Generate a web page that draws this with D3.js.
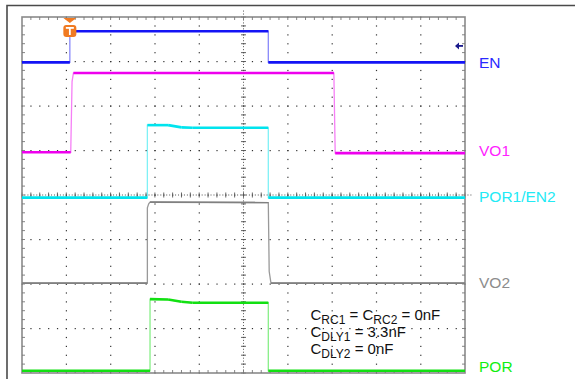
<!DOCTYPE html>
<html><head><meta charset="utf-8">
<script src="https://cdn.jsdelivr.net/npm/d3@7"></script>
<style>html,body{margin:0;padding:0;background:#fff;}svg{display:block;}</style>
</head><body>
<svg id="c" width="575" height="379"></svg>
<script>
// ---- data (time in divisions 0..10, level in divisions 0..8 from bottom) ----
const channelNames = ["EN", "VO1", "POR1/EN2", "VO2", "POR"];
const channelColors = ["#1414f5", "#ee00ee", "#00e4ee", "#808080", "#12e012"];
const labelColors = ["#2a2aff", "#ff22ff", "#22eaf5", "#8c8c8c", "#11ee11"];
const labelLevels = [6.97, 4.99, 3.96, 2.04, 0.14];
const enTrace = [[0, 6.98], [1.08, 6.98], [1.08, 7.68], [5.56, 7.68], [5.56, 6.98], [10, 6.98]];
const vo1Trace = [[0, 4.96], [1.10, 4.96], [1.13, 6.55], [1.16, 6.74], [7.04, 6.74], [7.07, 4.94], [10, 4.94]];
const por1Trace = [[0, 3.94], [2.83, 3.94], [2.83, 5.57], [3.3, 5.57], [3.6, 5.52], [3.85, 5.51], [5.56, 5.51], [5.56, 3.94], [10, 3.94]];
const vo2Trace = [[0, 2.02], [2.83, 2.02], [2.83, 3.71], [2.86, 3.80], [2.89, 3.84], [5.56, 3.83], [5.58, 2.28], [5.62, 2.02], [10, 2.02]];
const porTrace = [[0, 0.05], [2.89, 0.05], [2.89, 1.66], [3.3, 1.65], [3.6, 1.60], [3.85, 1.58], [5.56, 1.58], [5.56, 0.05], [10, 0.05]];
const traces = [enTrace, vo1Trace, por1Trace, vo2Trace, porTrace];
const triggerTime = 1.08;
const triggerLevel = 7.35;
const annotation = [
  [["C", false], ["RC1", true], [" = C", false], ["RC2", true], [" = 0nF", false]],
  [["C", false], ["DLY1", true], [" = 3.3nF", false]],
  [["C", false], ["DLY2", true], [" = 0nF", false]]
];
const xDivs = 10, yDivs = 8, minorPerDiv = 5;

// ---- drawing ----
const svg = d3.select("#c");
const x = d3.scaleLinear().domain([0, xDivs]).range([22, 465]);
const y = d3.scaleLinear().domain([0, yDivs]).range([373, 17]);
const font = "'Liberation Sans', Arial, sans-serif";

// outer frame
svg.append("path").attr("d", "M7,379 V5.5 H575").attr("fill", "none").attr("stroke", "#4a4a4a").attr("stroke-width", 1.6);

const g = svg.append("g");
// grid dots
const nX = xDivs * minorPerDiv, nY = yDivs * minorPerDiv;
for (let i = 1; i < xDivs; i++) {
  for (let k = 0; k <= nY; k++) {
    g.append("rect").attr("x", x(i) - 0.5).attr("y", y(k / minorPerDiv) - 0.5).attr("width", 1.2).attr("height", 1.2).attr("fill", "#333");
  }
}
for (let j = 1; j < yDivs; j++) {
  for (let k = 0; k <= nX; k++) {
    g.append("rect").attr("x", x(k / minorPerDiv) - 0.5).attr("y", y(j) - 0.5).attr("width", 1.2).attr("height", 1.2).attr("fill", "#333");
  }
}
// center crosshair ticks
const cx = x(xDivs / 2), cy = y(yDivs / 2);
for (let k = 0; k <= nY; k++) {
  g.append("line").attr("x1", cx - 2.5).attr("x2", cx + 2.5).attr("y1", y(k / minorPerDiv)).attr("y2", y(k / minorPerDiv)).attr("stroke", "#555").attr("stroke-width", 0.9);
  for (let s = 1; s < 3; s++) g.append("rect").attr("x", cx - 0.5).attr("y", y((k + s / 3) / minorPerDiv) - 0.5).attr("width", 1).attr("height", 1).attr("fill", "#555");
}
for (let k = 0; k <= nX; k++) {
  g.append("line").attr("y1", cy - 2.5).attr("y2", cy + 2.5).attr("x1", x(k / minorPerDiv)).attr("x2", x(k / minorPerDiv)).attr("stroke", "#555").attr("stroke-width", 0.9);
  for (let s = 1; s < 3; s++) g.append("rect").attr("y", cy - 0.5).attr("x", x((k + s / 3) / minorPerDiv) - 0.5).attr("width", 1).attr("height", 1).attr("fill", "#555");
}
// border with inner ticks
g.append("rect").attr("x", x(0)).attr("y", y(yDivs)).attr("width", x(xDivs) - x(0)).attr("height", y(0) - y(yDivs))
  .attr("fill", "none").attr("stroke", "#8a8a8a").attr("stroke-width", 1.6);
for (let k = 1; k < nX; k++) {
  const px = x(k / minorPerDiv);
  g.append("line").attr("x1", px).attr("x2", px).attr("y1", y(yDivs)).attr("y2", y(yDivs) + 3).attr("stroke", "#777").attr("stroke-width", 0.9);
  g.append("line").attr("x1", px).attr("x2", px).attr("y1", y(0)).attr("y2", y(0) - 3).attr("stroke", "#777").attr("stroke-width", 0.9);
}
for (let k = 1; k < nY; k++) {
  const py = y(k / minorPerDiv);
  g.append("line").attr("y1", py).attr("y2", py).attr("x1", x(0)).attr("x2", x(0) + 3).attr("stroke", "#777").attr("stroke-width", 0.9);
  g.append("line").attr("y1", py).attr("y2", py).attr("x1", x(xDivs)).attr("x2", x(xDivs) - 3).attr("stroke", "#777").attr("stroke-width", 0.9);
}

// traces
const line = d3.line().x(d => x(d[0])).y(d => y(d[1]));
const tg = svg.append("g");
traces.forEach((data, ci) => {
  const col = channelColors[ci];
  const thick = ci === 3 ? 1.6 : 2.6;
  // fast edges: thin, light
  tg.append("path").attr("d", line(data)).attr("fill", "none").attr("stroke", col)
    .attr("stroke-opacity", ci === 3 ? 0.8 : 0.5).attr("stroke-width", 1.3);
  // settled levels: thick
  for (let i = 0; i < data.length - 1; i++) {
    const a = data[i], b = data[i + 1];
    const dxp = Math.abs(x(b[0]) - x(a[0])), dyp = Math.abs(y(b[1]) - y(a[1]));
    if (dxp > dyp * 2) {
      tg.append("line").attr("x1", x(a[0])).attr("y1", y(a[1])).attr("x2", x(b[0])).attr("y2", y(b[1]))
        .attr("stroke", col).attr("stroke-width", thick).attr("stroke-linecap", "butt");
    }
  }
});

// trigger position marker
const tx = x(triggerTime), ty = y(yDivs);
svg.append("path").attr("d", `M${tx - 6.5},${ty + 1} L${tx + 6.5},${ty + 1} L${tx},${ty + 6} Z`).attr("fill", "#f07a22");
svg.append("rect").attr("x", tx - 6.5).attr("y", ty + 8).attr("width", 13).attr("height", 12).attr("rx", 3).attr("fill", "#f07a22");
svg.append("rect").attr("x", tx - 4).attr("y", ty + 10).attr("width", 8).attr("height", 1.8).attr("fill", "#fff");
svg.append("rect").attr("x", tx - 0.9).attr("y", ty + 10).attr("width", 1.8).attr("height", 8).attr("fill", "#fff");

// trigger level arrow
const ay = y(triggerLevel), ax = x(xDivs);
svg.append("path").attr("d", `M${ax - 10},${ay} L${ax - 6},${ay - 3.5} L${ax - 6},${ay + 3.5} Z`).attr("fill", "#1a1a8c");
svg.append("line").attr("x1", ax - 7).attr("x2", ax - 2).attr("y1", ay).attr("y2", ay).attr("stroke", "#1a1a8c").attr("stroke-width", 1.8);

// channel labels
channelNames.forEach((n, i) => {
  svg.append("text").attr("x", 479).attr("y", y(labelLevels[i]) + 5.5).text(n)
    .attr("font-family", font).attr("font-size", 15.5).attr("fill", labelColors[i]);
});

// annotation
const SUB = 12, SUBDY = 3.5;
annotation.forEach((parts, li) => {
  const t = svg.append("text").attr("x", 310.5).attr("y", 320 + li * 17)
    .attr("font-family", font).attr("font-size", 15).attr("fill", "#111")
    .style("white-space", "pre");
  let prevSub = false;
  parts.forEach(([s, sub]) => {
    const sp = t.append("tspan").text(s);
    if (sub) sp.attr("font-size", SUB).attr("dy", SUBDY);
    else sp.attr("dy", prevSub ? -SUBDY : 0);
    prevSub = sub;
  });
});
</script>
</body></html>
